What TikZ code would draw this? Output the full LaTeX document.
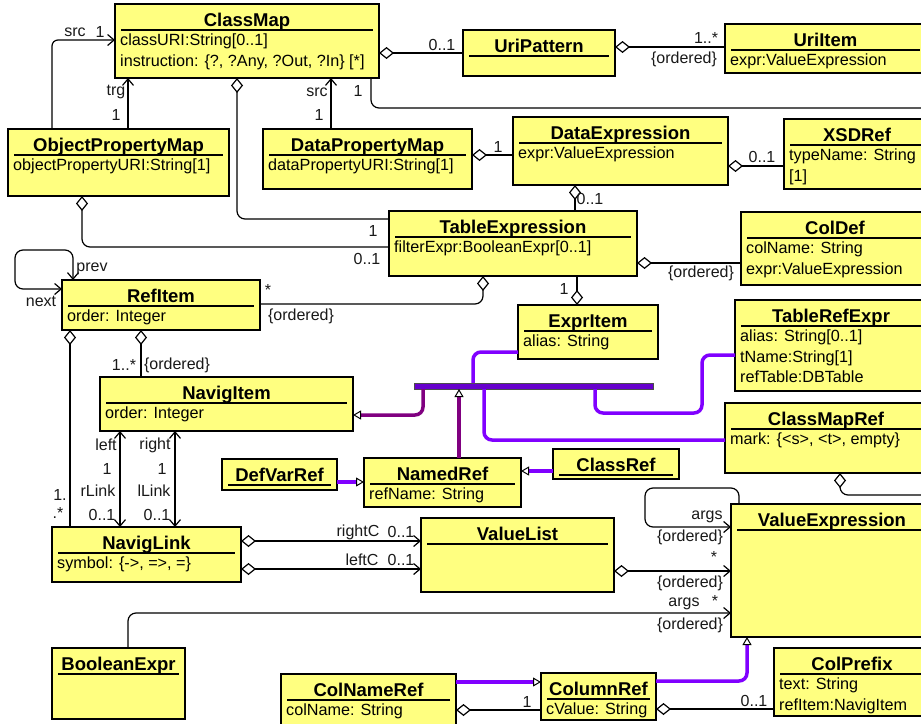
\documentclass[tikz,border=0pt]{standalone}
\usepackage{fontspec}
\setmainfont{Liberation Sans}
\usetikzlibrary{arrows.meta,calc}
\definecolor{clsfill}{RGB}{255,255,128}
\definecolor{violetc}{RGB}{128,0,255}
\definecolor{plumc}{RGB}{128,0,128}
\definecolor{lblc}{RGB}{25,25,25}
\tikzset{
  clsbox/.style={draw=black,line width=1.3pt,fill=clsfill,anchor=north west,inner sep=0pt,outer sep=0pt},
  clstitle/.style={font=\fontsize{18.5}{22}\selectfont\bfseries,anchor=base,inner sep=0pt},
  clsattr/.style={font=\fontsize{16.2}{20}\selectfont,anchor=base west,inner sep=0pt},
  titlerule/.style={line width=2pt},
  lbl/.style={font=\fontsize{16}{20}\selectfont,inner sep=0pt,text=lblc},
  assoc/.style={line width=1.2pt},
  nav/.style={assoc,-{Straight Barb[length=6.5pt,width=11pt]}},
  biv/.style={assoc,{Straight Barb[length=6.5pt,width=11pt]}-{Straight Barb[length=6.5pt,width=11pt]}},
  agg/.style={assoc,{Diamond[fill=white,length=15pt,width=12pt]}-},
  aggnav/.style={assoc,{Diamond[fill=white,length=15pt,width=12pt]}-{Straight Barb[length=6.5pt,width=11pt]}},
  tri/.tip={Triangle[color=black,fill=white,length=8pt,width=9pt,line width=1pt]},
  genl/.style={line width=3.5pt,violetc,rounded corners=8pt},
  gend/.style={line width=3.5pt,plumc,rounded corners=8pt},
  genbar/.style={fill=violetc!80!black,draw=black!70,line width=0.8pt,anchor=north west,inner sep=0pt,outer sep=0pt},
}
% class box: name, x, y, width, height, title
\newcommand{\umlclass}[6]{%
  \node[clsbox,minimum width=#4pt,minimum height=#5pt] (#1) at (#2,#3) {};
  \node[clstitle] (#1-t) at ($(#1.north)+(0,22.5)$) {#6};
  \draw[titlerule] ($(#1.north west)+(6,26)$) -- ($(#1.north east)+(-6,26)$);
}
% attribute line: class, line number, text
\newcommand{\umlattr}[3]{%
  \node[clsattr] (#1-a#2) at ($(#1.north west)+(5,{41.5+20.5*(#2-1)})$) {#3};
}

\begin{document}
\begin{tikzpicture}[x=1pt,y=-1pt]
  \fill[white] (0,0) rectangle (921,723);
  \useasboundingbox (0,0) rectangle (921,723);
  \clip (0,0) rectangle (921,723);

  % classes
  \umlclass{ClassMap}{115}{4}{264}{74}{ClassMap}
  \umlattr{ClassMap}{1}{classURI:String[0..1]}
  \umlattr{ClassMap}{2}{instruction: \{?, ?Any, ?Out, ?In\} [*]}
  \umlclass{UriPattern}{463}{30}{152}{46}{UriPattern}
  \umlclass{UriItem}{725}{24}{201}{49}{UriItem}
  \umlattr{UriItem}{1}{expr:ValueExpression}
  \umlclass{OPM}{8}{129}{221}{67}{ObjectPropertyMap}
  \umlattr{OPM}{1}{objectPropertyURI:String[1]}
  \umlclass{DPM}{263}{129}{209}{60}{DataPropertyMap}
  \umlattr{DPM}{1}{dataPropertyURI:String[1]}
  \umlclass{DataExpr}{513}{117}{215}{68}{DataExpression}
  \umlattr{DataExpr}{1}{expr:ValueExpression}
  \umlclass{XSDRef}{784}{119}{146}{70}{XSDRef}
  \umlattr{XSDRef}{1}{typeName: String}
  \umlattr{XSDRef}{2}{[1]}
  \umlclass{TableExpr}{389}{211}{248}{65}{TableExpression}
  \umlattr{TableExpr}{1}{filterExpr:BooleanExpr[0..1]}
  \umlclass{ColDef}{741}{212}{188}{73}{ColDef}
  \umlattr{ColDef}{1}{colName: String}
  \umlattr{ColDef}{2}{expr:ValueExpression}
  \umlclass{RefItem}{62}{280}{198}{50}{RefItem}
  \umlattr{RefItem}{1}{order: Integer}
  \umlclass{ExprItem}{518}{305}{140}{54}{ExprItem}
  \umlattr{ExprItem}{1}{alias: String}
  \umlclass{TableRefExpr}{735}{300}{192}{91}{TableRefExpr}
  \umlattr{TableRefExpr}{1}{alias: String[0..1]}
  \umlattr{TableRefExpr}{2}{tName:String[1]}
  \umlattr{TableRefExpr}{3}{refTable:DBTable}
  \umlclass{NavigItem}{100}{377}{253}{54}{NavigItem}
  \umlattr{NavigItem}{1}{order: Integer}
  \umlclass{ClassMapRef}{725}{403}{202}{70}{ClassMapRef}
  \umlattr{ClassMapRef}{1}{mark: \{<s>, <t>, empty\}}
  \umlclass{DefVarRef}{222}{459}{115}{31}{DefVarRef}
  \umlclass{NamedRef}{364}{458}{157}{49}{NamedRef}
  \umlattr{NamedRef}{1}{refName: String}
  \umlclass{ClassRef}{553}{449}{126}{30}{ClassRef}
  \umlclass{ValueExpr}{731}{504}{202}{133}{ValueExpression}
  \umlclass{NavigLink}{52}{527}{189}{55}{NavigLink}
  \umlattr{NavigLink}{1}{symbol: \{->, =>, =\}}
  \umlclass{ValueList}{421}{518}{193}{74}{ValueList}
  \umlclass{BooleanExpr}{52}{648}{133}{71}{BooleanExpr}
  \umlclass{ColNameRef}{281}{674}{175}{52}{ColNameRef}
  \umlattr{ColNameRef}{1}{colName: String}
  \umlclass{ColumnRef}{541}{673}{115}{47}{ColumnRef}
  \umlattr{ColumnRef}{1}{cValue: String}
  \umlclass{ColPrefix}{774}{648}{156}{68}{ColPrefix}
  \umlattr{ColPrefix}{1}{text: String}
  \umlattr{ColPrefix}{2}{refItem:NavigItem}

  \node[genbar,minimum width=239pt,minimum height=6pt] (bar) at (414,383) {};
  \coordinate (cmEdge) at (930,108);
  \coordinate (cmrEdge) at (930,495);

  % associations
  \draw[nav,rounded corners=6pt] ($(OPM.north west)+(44,0)$) |- ($(ClassMap.north west)+(0,36)$);
  \draw[nav] ($(OPM.north west)+(120,0)$) -- ($(ClassMap.south west)+(13,0)$);
  \draw[nav] ($(DPM.north west)+(68,0)$) -- ($(ClassMap.south west)+(216,0)$);
  \draw[assoc,rounded corners=8pt] ($(ClassMap.south west)+(256,0)$) |- (cmEdge);
  \draw[agg] ($(ClassMap.north east)+(0,49)$) coordinate (c5) -- (c5 -| UriPattern.west);
  \draw[agg] ($(UriPattern.north east)+(0,17)$) coordinate (c6) -- (c6 -| UriItem.west);
  \draw[agg] ($(DPM.north east)+(0,26)$) coordinate (c7) -- (c7 -| DataExpr.west);
  \draw[agg] ($(DataExpr.north east)+(0,49)$) coordinate (c8) -- (c8 -| XSDRef.west);
  \draw[agg] ($(DataExpr.south west)+(62,0)$) coordinate (c9) -- (c9 |- TableExpr.north);
  \draw[agg,rounded corners=8pt] ($(ClassMap.south west)+(122,0)$) |- ($(TableExpr.north west)+(0,8)$);
  \draw[agg,rounded corners=8pt] ($(OPM.south west)+(74,0)$) |- ($(TableExpr.north west)+(0,36)$);
  \draw[agg] ($(TableExpr.north east)+(0,52)$) coordinate (c12) -- (c12 -| ColDef.west);
  \draw[agg,rounded corners=8pt] ($(TableExpr.south west)+(94,0)$) |- ($(RefItem.north east)+(0,24)$);
  \draw[agg] ($(ExprItem.north west)+(59,0)$) coordinate (c14) -- (c14 |- TableExpr.south);
  \draw[biv,rounded corners=8pt] ($(RefItem.north west)+(11,0)$) |- ($(RefItem.north west)+(-47,-30)$)
    |- ($(RefItem.north west)+(0,9)$);
  \draw[agg] ($(RefItem.south west)+(8,0)$) coordinate (c16) -- (c16 |- NavigLink.north);
  \draw[agg] ($(RefItem.south west)+(79,0)$) coordinate (c17) -- (c17 |- NavigItem.north);
  \draw[biv] ($(NavigItem.south west)+(20,0)$) coordinate (c18) -- (c18 |- NavigLink.north);
  \draw[biv] ($(NavigItem.south west)+(75,0)$) coordinate (c19) -- (c19 |- NavigLink.north);
  \draw[aggnav] ($(NavigLink.north east)+(0,14)$) coordinate (c20) -- (c20 -| ValueList.west);
  \draw[aggnav] ($(NavigLink.north east)+(0,42)$) coordinate (c21) -- (c21 -| ValueList.west);
  \draw[aggnav] ($(ValueList.north east)+(0,53)$) coordinate (c22) -- (c22 -| ValueExpr.west);
  \draw[nav,rounded corners=8pt] ($(ValueExpr.north west)+(8,0)$) |- ($(ValueExpr.north west)+(-86,-16)$)
    |- ($(ValueExpr.north west)+(0,23)$);
  \draw[agg,rounded corners=8pt] ($(ClassMapRef.south west)+(115,0)$) |- (cmrEdge);
  \draw[nav,rounded corners=8pt] ($(BooleanExpr.north west)+(76,0)$) |- ($(ValueExpr.north west)+(0,109)$);
  \draw[agg] ($(ColNameRef.north east)+(0,36)$) coordinate (c26) -- (c26 -| ColumnRef.west);
  \draw[agg] ($(ColumnRef.north east)+(0,36)$) coordinate (c27) -- (c27 -| ColPrefix.west);

  % generalizations
  \draw[genl] ($(ExprItem.north west)+(0,47)$) -| ($(bar.north west)+(59,0)$);
  \draw[genl] ($(TableRefExpr.north west)+(0,55)$) -| ++(-33,58) -| ($(bar.south west)+(181,0)$);
  \draw[genl] ($(ClassMapRef.north west)+(0,37)$) -| ($(bar.south west)+(70,0)$);
  \draw[gend,-tri] ($(NamedRef.north west)+(95,0)$) coordinate (g4) -- (g4 |- bar.south);
  \draw[gend,-tri] ($(bar.south west)+(9,0)$) |- ($(NavigItem.north east)+(0,38)$);
  \draw[genl,-tri] ($(DefVarRef.north east)+(0,23)$) coordinate (g6) -- (g6 -| NamedRef.west);
  \draw[genl,-tri] ($(ClassRef.north west)+(0,22)$) coordinate (g7) -- (g7 -| NamedRef.east);
  \draw[genl,-tri] ($(ColNameRef.north east)+(0,8)$) coordinate (g8) -- (g8 -| ColumnRef.west);
  \draw[genl,-tri] ($(ColumnRef.north east)+(0,8)$) -| ($(ValueExpr.south west)+(16,0)$);

  % role names and multiplicities
  \node[lbl] (srcA) at (75,32) {src};
  \node[lbl] (srcAm) at (100,32) {1};
  \node[lbl] (trgA) at (116,92) {trg};
  \node[lbl] (trgAm) at (116,115) {1};
  \node[lbl] (srcB) at (317,92) {src};
  \node[lbl] (srcBm) at (319,115) {1};
  \node[lbl] (cmOne) at (358,91) {1};
  \node[lbl] (upM) at (442,45) {0..1};
  \node[lbl] (uiM) at (706,38) {1..*};
  \node[lbl] (uiO) at (684,59) {\{ordered\}};
  \node[lbl] (deM) at (498,147) {1};
  \node[lbl] (xsM) at (762,157) {0..1};
  \node[lbl] (teTop) at (590,199) {0..1};
  \node[lbl] (teA) at (373,231) {1};
  \node[lbl] (teB) at (367,259) {0..1};
  \node[lbl] (cdO) at (701,273) {\{ordered\}};
  \node[lbl] (riM) at (268,290) {*};
  \node[lbl] (riO) at (301,316) {\{ordered\}};
  \node[lbl] (eiM) at (564,289) {1};
  \node[lbl] (prevL) at (92,269) {prev};
  \node[lbl] (nextL) at (41,301) {next};
  \node[lbl] (nlA) at (60,495) {1.};
  \node[lbl] (nlB) at (58,513) {.*};
  \node[lbl] (niM) at (124,365) {1..*};
  \node[lbl] (niO) at (177,365) {\{ordered\}};
  \node[lbl] (leftL) at (106,445) {left};
  \node[lbl] (leftM) at (107,469) {1};
  \node[lbl] (rLinkL) at (98,491) {rLink};
  \node[lbl] (rLinkM) at (102,515) {0..1};
  \node[lbl] (rightL) at (155,445) {right};
  \node[lbl] (rightM) at (162,469) {1};
  \node[lbl] (lLinkL) at (154,491) {lLink};
  \node[lbl] (lLinkM) at (157,515) {0..1};
  \node[lbl] (rcL) at (358,532) {rightC};
  \node[lbl] (rcM) at (401,532) {0..1};
  \node[lbl] (lcL) at (362,560) {leftC};
  \node[lbl] (lcM) at (401,560) {0..1};
  \node[lbl] (vlM) at (714,557) {*};
  \node[lbl] (vlO) at (690,583) {\{ordered\}};
  \node[lbl] (veA) at (707,517) {args};
  \node[lbl] (veO) at (690,537) {\{ordered\}};
  \node[lbl] (beA) at (684,604) {args};
  \node[lbl] (beM) at (715,601) {*};
  \node[lbl] (beO) at (690,625) {\{ordered\}};
  \node[lbl] (crM) at (527,702) {1};
  \node[lbl] (cpM) at (754,701) {0..1};
\end{tikzpicture}
\end{document}
